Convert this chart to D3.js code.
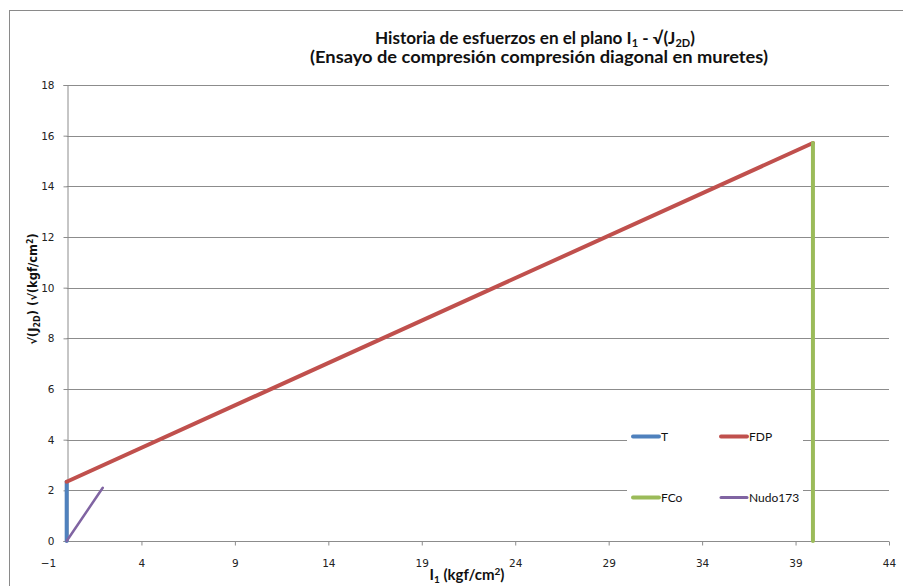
<!DOCTYPE html>
<html>
<head>
<meta charset="utf-8">
<script src="https://cdn.jsdelivr.net/npm/d3@7"></script>
<style>
  html, body { margin: 0; padding: 0; background: #fff; }
  svg { display: block; }
</style>
</head>
<body>
<svg id="chart" width="903" height="586"></svg>
<script>
// Stress path series in the I1 - sqrt(J2D) plane
const seriesNames = ["T", "FDP", "FCo", "Nudo173"];
const seriesColors = ["#4F81BD", "#C0504D", "#9BBB59", "#8064A2"];
const seriesWidths = [4, 4, 4, 2.5];
const T_I1 = [0, 0];
const T_J = [0, 2.34];
const FDP_I1 = [0, 39.93];
const FDP_J = [2.34, 15.71];
const FCo_I1 = [39.93, 39.93];
const FCo_J = [15.71, 0];
const Nudo173_I1 = [0, 1.93];
const Nudo173_J = [0, 2.1];
const xTicks = [-1, 4, 9, 14, 19, 24, 29, 34, 39, 44];
const yTicks = [0, 2, 4, 6, 8, 10, 12, 14, 16, 18];

const series = [
  { name: seriesNames[0], xs: T_I1, ys: T_J },
  { name: seriesNames[1], xs: FDP_I1, ys: FDP_J },
  { name: seriesNames[2], xs: FCo_I1, ys: FCo_J },
  { name: seriesNames[3], xs: Nudo173_I1, ys: Nudo173_J }
];

const svg = d3.select("#chart");
const gridColor = "#8c8c8c";

// chart area frame
svg.append("rect")
  .attr("x", 9.5).attr("y", 10.5)
  .attr("width", 1000).attr("height", 1000)
  .attr("fill", "none").attr("stroke", "#8a8a8a").attr("stroke-width", 1);

const x = d3.scaleLinear().domain([-1, 44]).range([48, 889]);
const y = d3.scaleLinear().domain([0, 18]).range([541, 85]);

// horizontal gridlines
svg.append("g").selectAll("line")
  .data(yTicks.filter(v => v > 0))
  .join("line")
  .attr("x1", x(0)).attr("x2", x(44))
  .attr("y1", d => Math.round(y(d)) + 0.5).attr("y2", d => Math.round(y(d)) + 0.5)
  .attr("stroke", gridColor).attr("stroke-width", 1);

// y axis
const yAxis = svg.append("g")
  .attr("transform", `translate(${Math.round(x(0)) + 0.5},0)`)
  .call(d3.axisLeft(y).tickValues(yTicks).tickSize(4).tickPadding(9).tickFormat(d3.format("d")));
yAxis.select(".domain").attr("stroke", gridColor);
yAxis.selectAll(".tick line").attr("stroke", gridColor);
yAxis.selectAll(".tick text")
  .attr("font-family", "DejaVu Sans, sans-serif").attr("font-size", 10.5).attr("fill", "#222");

// x axis
const xAxis = svg.append("g")
  .attr("transform", `translate(0,${Math.round(y(0)) + 0.5})`)
  .call(d3.axisBottom(x).tickValues(xTicks).tickSize(4).tickPadding(14).tickFormat(d3.format("d")));
xAxis.select(".domain").remove();
xAxis.selectAll(".tick line").attr("stroke", gridColor)
  .attr("display", d => d < 0 ? "none" : null);
xAxis.selectAll(".tick text")
  .attr("font-family", "DejaVu Sans, sans-serif").attr("font-size", 10.5).attr("fill", "#222");
xAxis.append("line")
  .attr("x1", x(0)).attr("x2", x(44))
  .attr("stroke", gridColor).attr("stroke-width", 1);

// legend background
const legend = svg.append("g");
legend.append("rect")
  .attr("x", 627).attr("y", 424).attr("width", 176).attr("height", 86)
  .attr("fill", "#fff");

// series lines
const line = d3.line().x(d => x(d[0])).y(d => y(d[1]));
svg.append("g").selectAll("path")
  .data(series)
  .join("path")
  .attr("d", s => line(s.xs.map((v, i) => [v, s.ys[i]])))
  .attr("fill", "none")
  .attr("stroke", (s, i) => seriesColors[i])
  .attr("stroke-width", (s, i) => seriesWidths[i])
  .attr("stroke-linecap", "round")
  .attr("stroke-linejoin", "round");

// legend entries (2 x 2)
const legendPos = [[632, 436.5], [720, 436.5], [632, 497.5], [720, 497.5]];
seriesNames.forEach((name, i) => {
  const [lx, ly] = legendPos[i];
  legend.append("line")
    .attr("x1", lx + 1).attr("x2", lx + 27)
    .attr("y1", ly).attr("y2", ly)
    .attr("stroke", seriesColors[i]).attr("stroke-width", i === 3 ? 3 : 4)
    .attr("stroke-linecap", "round");
  legend.append("text")
    .attr("x", lx + 29).attr("y", ly + 4.5)
    .attr("font-family", "Lato, sans-serif").attr("font-size", 12)
    .attr("fill", "#111")
    .text(name);
});

// title
const title = svg.append("g")
  .attr("font-family", "Lato, sans-serif").attr("font-weight", "bold")
  .attr("font-size", 17).attr("fill", "#111").attr("text-anchor", "middle");
const t1 = title.append("text").attr("x", 535).attr("y", 44)
  .attr("textLength", 320).attr("lengthAdjust", "spacingAndGlyphs");
t1.append("tspan").text("Historia de esfuerzos en el plano I");
t1.append("tspan").attr("font-size", 11).attr("dy", 3).text("1");
t1.append("tspan").attr("dy", -3).text(" - √(J");
t1.append("tspan").attr("font-size", 11).attr("dy", 3).text("2D");
t1.append("tspan").attr("dy", -3).text(")");
title.append("text").attr("x", 539).attr("y", 63)
  .attr("textLength", 458).attr("lengthAdjust", "spacingAndGlyphs")
  .text("(Ensayo de compresión compresión diagonal en muretes)");

// x axis title
const xt = svg.append("text")
  .attr("x", 467).attr("y", 580)
  .attr("font-family", "Lato, sans-serif").attr("font-weight", "bold")
  .attr("font-size", 15).attr("fill", "#111").attr("text-anchor", "middle");
xt.append("tspan").text("I");
xt.append("tspan").attr("font-size", 10).attr("dy", 3).text("1");
xt.append("tspan").attr("dy", -3).text(" (kgf/cm");
xt.append("tspan").attr("font-size", 10).attr("dy", -5).text("2");
xt.append("tspan").attr("dy", 5).text(")");

// y axis title
const yt = svg.append("text")
  .attr("transform", "translate(37,289) rotate(-90)")
  .attr("font-family", "DejaVu Sans, sans-serif").attr("font-weight", "bold")
  .attr("font-size", 11.5).attr("fill", "#111").attr("text-anchor", "middle");
yt.append("tspan").text("√(J");
yt.append("tspan").attr("font-size", 8).attr("dy", 3).text("2D");
yt.append("tspan").attr("dy", -3).text(") (√(kgf/cm");
yt.append("tspan").attr("font-size", 8).attr("dy", -4).text("2");
yt.append("tspan").attr("dy", 4).text(")");
</script>
</body>
</html>
